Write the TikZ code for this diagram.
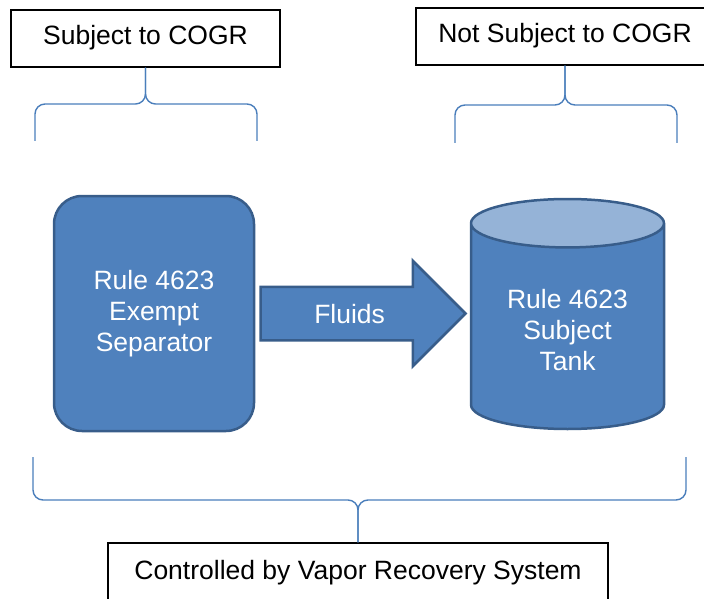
\documentclass[tikz,border=0pt]{standalone}
\usepackage{fontspec}
\setmainfont{Liberation Sans}
\usetikzlibrary{shapes.geometric,shapes.arrows,calc}
\definecolor{azul}{HTML}{4F81BD}
\definecolor{azulborda}{HTML}{385D8A}
\definecolor{azulclaro}{HTML}{95B3D7}
\definecolor{azulchave}{HTML}{4A7EBB}
\tikzset{caixa/.style={draw=black,line width=1.2pt,minimum height=57pt,inner sep=0pt,text height=19pt,text depth=6pt}}
\tikzset{bloco/.style={draw=azulborda,line width=2.5pt,text=white,align=center}}
\tikzset{chave/.style={draw=azulchave,line width=1.4pt,rounded corners=10pt}}
% #1 = ponta, #2 e #3 = x das pontas, #4 = y da linha, #5 = y das pontas
\newcommand{\chave}[5]{%
	\draw [chave] (#2,#5) |- (#1 |- 0,#4) -- (#1);
	\draw [chave] (#3,#5) |- (#1 |- 0,#4) -- (#1);
}

\begin{document}
\begin{tikzpicture}[x=1pt,y=-1pt,font=\fontsize{26.5}{31}\selectfont]
	\clip (0,0) rectangle (704,599);

	% As caixas de texto
	\node [caixa,minimum width=269pt] (cogr) at (145.5,38.5) {Subject to COGR};
	\node [caixa,minimum width=298pt] (naocogr) at (565,36.5) {Not Subject to COGR};
	\node [caixa,minimum width=500pt,minimum height=60pt] (controle) at (358,573)
		{Controlled by Vapor Recovery System};

	% O separador e o tanque
	\node [bloco,fill=azul,rounded corners=28pt,minimum width=200pt,minimum height=235pt]
		(separador) at (154,313.5) {Rule 4623\\Exempt\\Separator};
	\node [bloco,cylinder,shape border rotate=90,aspect=0.38,
		cylinder uses custom fill,cylinder body fill=azul,cylinder end fill=azulclaro,
		minimum width=193pt,minimum height=230pt,anchor=shape center] (tanque) at (567.5,314)
		{Rule 4623\\Subject\\Tank};

	% A seta
	\node [bloco,fill=azul,single arrow,single arrow head extend=26pt,minimum height=205pt,
		text height=19pt,text depth=0pt,inner ysep=16pt,anchor=tail]
		(fluidos) at ($(separador.east)+(4,0)$) {Fluids};

	% As chaves
	\chave{cogr.south}{35}{257}{104}{141}
	\chave{naocogr.south}{455}{677}{105}{143}
	\chave{controle.north}{33}{686}{500}{457}

\end{tikzpicture}
\end{document}
